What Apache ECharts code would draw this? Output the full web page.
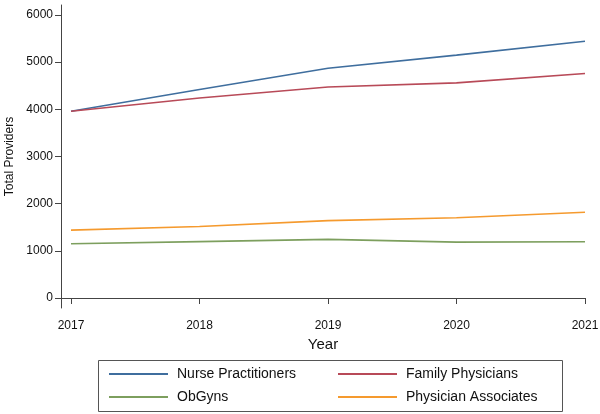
<!DOCTYPE html>
<html>
<head>
<meta charset="utf-8">
<script src="https://cdn.jsdelivr.net/npm/echarts@6/dist/echarts.min.js"></script>
<style>html,body{margin:0;padding:0;background:#fff}#c{width:600px;height:414px}</style>
</head>
<body>
<div id="c"></div>
<script>
const years = [2017, 2018, 2019, 2020, 2021];
const nurse = [3960, 4420, 4870, 5150, 5445];
const family = [3960, 4240, 4475, 4560, 4760];
const obgyn = [1150, 1195, 1242, 1185, 1192];
const pa = [1440, 1515, 1640, 1700, 1818];
const yTicks = [0, 1000, 2000, 3000, 4000, 5000, 6000];
const names = ['Nurse Practitioners', 'Family Physicians', 'ObGyns', 'Physician Associates'];
const colors = ['#3f6e9e', '#b84a58', '#7d9f5e', '#f59a2e'];
const seriesValues = [nurse, family, obgyn, pa];

const font = 'Liberation Sans, Arial, Helvetica, sans-serif';
const chart = echarts.init(document.getElementById('c'));
const legendBase = {
  orient: 'vertical', top: 362,
  itemWidth: 59, itemHeight: 14, itemGap: 9,
  itemStyle: { opacity: 0 },
  textStyle: { fontFamily: font, fontSize: 14, color: '#111', padding: [0, 0, 0, 4] }
};
chart.setOption({
  animation: false,
  grid: { left: 61, right: 15, top: 5, bottom: 106, containLabel: false, outerBoundsMode: 'none' },
  xAxis: {
    type: 'value', min: 2016.922, max: 2021,
    name: 'Year', nameLocation: 'middle', nameGap: 23,
    nameTextStyle: { fontFamily: font, fontSize: 15, color: '#111' },
    axisLine: { show: true, lineStyle: { color: '#444', width: 1 } },
    axisTick: { show: true, length: 6, lineStyle: { color: '#444' }, customValues: years },
    axisLabel: { customValues: years, fontFamily: font, fontSize: 12, color: '#111', margin: 12, formatter: v => String(v) },
    splitLine: { show: false }
  },
  yAxis: {
    type: 'value', min: -212, max: 6212,
    name: 'Total Providers', nameLocation: 'middle', nameGap: 43, nameRotate: 90,
    nameTextStyle: { fontFamily: font, fontSize: 12, color: '#111' },
    axisLine: { show: true, lineStyle: { color: '#444', width: 1 } },
    axisTick: { show: true, length: 6, lineStyle: { color: '#444' }, customValues: yTicks },
    axisLabel: { customValues: yTicks, fontFamily: font, fontSize: 12, color: '#111', margin: 8, formatter: v => String(v) },
    splitLine: { show: false }
  },
  legend: [
    Object.assign({ data: [names[0], names[2]], left: 103 }, legendBase),
    Object.assign({ data: [names[1], names[3]], left: 332 }, legendBase)
  ],
  graphic: [{
    type: 'rect', left: 96, top: 358,
    shape: { width: 464, height: 51 },
    style: { fill: 'none', stroke: '#555', lineWidth: 1 }
  }],
  series: names.map((n, i) => ({
    name: n, type: 'line', symbol: 'none',
    data: years.map((y, j) => [y, seriesValues[i][j]]),
    lineStyle: { color: colors[i], width: 1.6 },
    itemStyle: { color: colors[i] }
  }))
});
</script>
</body>
</html>
